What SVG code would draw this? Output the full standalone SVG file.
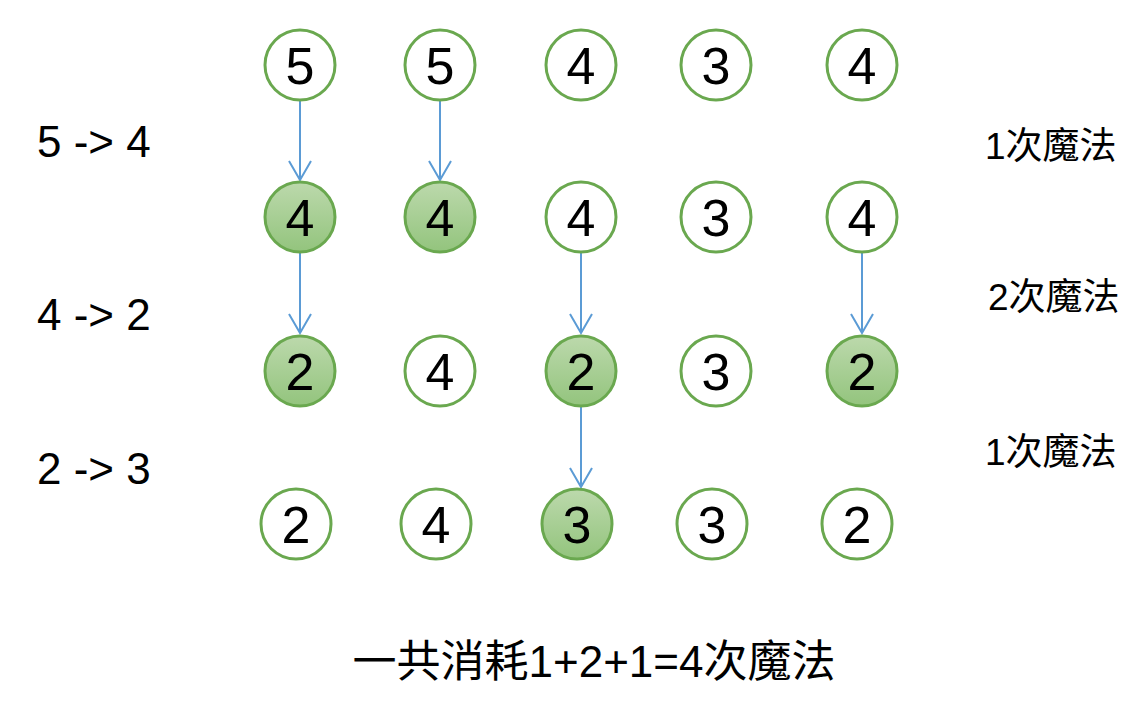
<svg xmlns="http://www.w3.org/2000/svg" width="1147" height="714" viewBox="0 0 1147 714">
<style>
.n{stroke:#6aa84f;stroke-width:3}
.w{fill:#fff}
.g{fill:url(#gr)}
.t{font-family:"Liberation Sans",Arial,sans-serif;font-size:52px;text-anchor:middle;fill:#000}
.l{font-family:"Liberation Sans","Noto Sans CJK SC",sans-serif;font-size:37px;fill:#000}
.c line{stroke:#5b9bd5;stroke-width:2;marker-end:url(#a)}
</style>
<defs>
<linearGradient id="gr" x1="0" y1="0" x2="0" y2="1"><stop offset="0" stop-color="#bcd9ac"/><stop offset="1" stop-color="#93c47d"/></linearGradient>
<marker id="a" markerWidth="24" markerHeight="28" refX="20" refY="12" orient="auto" markerUnits="userSpaceOnUse"><path d="M1,1 L20,12 L1,23" fill="none" stroke="#5b9bd5" stroke-width="2"/></marker>
</defs>
<g class="c">
<line x1="300" y1="100" x2="300" y2="180"/>
<line x1="440" y1="100" x2="440" y2="180"/>
<line x1="300" y1="252" x2="300" y2="333"/>
<line x1="581" y1="252" x2="581" y2="333"/>
<line x1="862" y1="252" x2="862" y2="333"/>
<line x1="581" y1="406" x2="581" y2="487"/>
</g>
<g id="r1">
<g id="n11"><circle class="n w" cx="300" cy="65" r="35"/><text class="t" x="300" y="84">5</text></g>
<g id="n12"><circle class="n w" cx="440" cy="65" r="35"/><text class="t" x="440" y="84">5</text></g>
<g id="n13"><circle class="n w" cx="581" cy="65" r="35"/><text class="t" x="581" y="84">4</text></g>
<g id="n14"><circle class="n w" cx="716" cy="65" r="35"/><text class="t" x="716" y="84">3</text></g>
<g id="n15"><circle class="n w" cx="862" cy="65" r="35"/><text class="t" x="862" y="84">4</text></g>
</g>
<g id="r2">
<g id="n21"><circle class="n g" cx="300" cy="217" r="35"/><text class="t" x="300" y="236">4</text></g>
<g id="n22"><circle class="n g" cx="440" cy="217" r="35"/><text class="t" x="440" y="236">4</text></g>
<g id="n23"><circle class="n w" cx="581" cy="217" r="35"/><text class="t" x="581" y="236">4</text></g>
<g id="n24"><circle class="n w" cx="716" cy="217" r="35"/><text class="t" x="716" y="236">3</text></g>
<g id="n25"><circle class="n w" cx="862" cy="217" r="35"/><text class="t" x="862" y="236">4</text></g>
</g>
<g id="r3">
<g id="n31"><circle class="n g" cx="300" cy="371" r="35"/><text class="t" x="300" y="390">2</text></g>
<g id="n32"><circle class="n w" cx="440" cy="371" r="35"/><text class="t" x="440" y="390">4</text></g>
<g id="n33"><circle class="n g" cx="581" cy="371" r="35"/><text class="t" x="581" y="390">2</text></g>
<g id="n34"><circle class="n w" cx="716" cy="371" r="35"/><text class="t" x="716" y="390">3</text></g>
<g id="n35"><circle class="n g" cx="862" cy="371" r="35"/><text class="t" x="862" y="390">2</text></g>
</g>
<g id="r4">
<g id="n41"><circle class="n w" cx="296" cy="524" r="35"/><text class="t" x="296" y="543">2</text></g>
<g id="n42"><circle class="n w" cx="436" cy="524" r="35"/><text class="t" x="436" y="543">4</text></g>
<g id="n43"><circle class="n g" cx="577" cy="524" r="35"/><text class="t" x="577" y="543">3</text></g>
<g id="n44"><circle class="n w" cx="712" cy="524" r="35"/><text class="t" x="712" y="543">3</text></g>
<g id="n45"><circle class="n w" cx="857" cy="524" r="35"/><text class="t" x="857" y="543">2</text></g>
</g>
<g id="labels">
<text class="l" x="37" y="157" style="font-size:44px">5 -&gt; 4</text>
<text class="l" x="37" y="330" style="font-size:44px">4 -&gt; 2</text>
<text class="l" x="37" y="484" style="font-size:44px">2 -&gt; 3</text>
<text class="l" x="985" y="159">1次魔法</text>
<text class="l" x="988" y="310">2次魔法</text>
<text class="l" x="985" y="465">1次魔法</text>
<text class="l" x="594" y="677" text-anchor="middle" style="font-size:44px">一共消耗1+2+1=4次魔法</text>
</g>
</svg>
